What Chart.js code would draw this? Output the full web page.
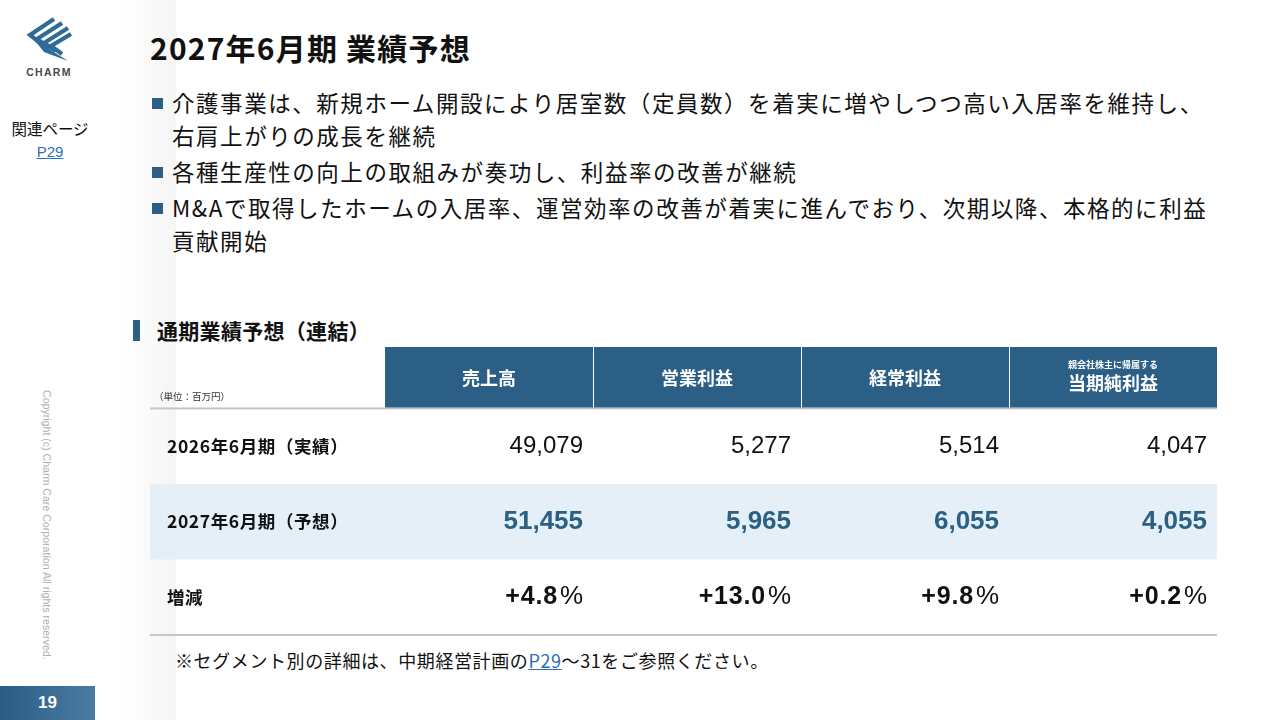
<!DOCTYPE html>
<html lang="ja">
<head>
<meta charset="utf-8">
<title>2027年6月期 業績予想</title>
<script src="https://cdn.jsdelivr.net/npm/chart.js@4/dist/chart.umd.min.js"></script>
<style>
  html, body { margin: 0; padding: 0; }
  body {
    width: 1280px; height: 720px; position: relative; overflow: hidden;
    background: #fff; color: #111;
    font-family: "Noto Sans CJK JP", "Noto Sans", sans-serif;
  }
  .shade {
    position: absolute; left: 120px; top: 0; width: 56px; height: 720px;
    background: linear-gradient(to right, rgba(246,246,246,0), #f5f5f5);
  }
  .logo { position: absolute; left: 22px; top: 16px; width: 54px; }
  .logo svg { display: block; margin-left: 2px; }
  .logo .name {
    font-family: "Liberation Sans", sans-serif; font-size: 10.5px; font-weight: 700; color: #4a4a4a;
    letter-spacing: 1.3px; text-align: center; margin-top: 2px;
  }
  .related {
    position: absolute; left: 0; top: 117px; width: 100px; text-align: center;
    font-size: 15.5px; line-height: 22px;
  }
  .related a { color: #2a6fb5; font-family: "Liberation Sans", sans-serif; font-size: 15px; }
  h1 {
    position: absolute; left: 150px; top: 27px; margin: 0;
    font-size: 30px; font-weight: 700; line-height: 40px; letter-spacing: 1.2px;
  }
  ul.points {
    position: absolute; left: 150px; top: 86px; margin: 0; padding: 0; list-style: none;
    font-size: 22.5px; line-height: 33px; letter-spacing: 1.55px;
  }
  ul.points li { position: relative; padding-left: 22px; margin-bottom: 3px; }
  ul.points li::before {
    content: ""; position: absolute; left: 2px; top: 12px; width: 11px; height: 11px;
    background: #2b5f86;
  }
  .section {
    position: absolute; left: 133px; top: 316px; font-size: 21px; font-weight: 700;
    line-height: 28px; padding-left: 24px; letter-spacing: 0.3px;
  }
  .section::before {
    content: ""; position: absolute; left: 0; top: 4px; width: 7px; height: 21px; background: #2b5f86;
  }
  #tableBox { position: absolute; left: 150px; top: 347px; width: 1067px; height: 292px; }
  .note {
    position: absolute; left: 175px; top: 647px; font-size: 18px; line-height: 26px; letter-spacing: 0.6px;
  }
  .note a { color: #2a6fb5; }
  .copy {
    position: absolute; left: 47px; top: 390px; transform-origin: 0 0; transform: rotate(90deg) translateY(-50%);
    font-family: "Liberation Sans", sans-serif; font-size: 10.6px; color: #b0b0b0; white-space: nowrap;
    line-height: 14px;
  }
  .page {
    position: absolute; left: 0; top: 686px; width: 95px; height: 34px;
    background: linear-gradient(to right, #2a5b82, #4b7ca3);
    color: #fff; font-family: "Liberation Sans", sans-serif; font-weight: 700; font-size: 17px;
    line-height: 34px; text-align: center;
  }
</style>
</head>
<body>
<div class="shade"></div>

<div class="logo">
  <svg width="50" height="48" viewBox="0 0 50 48">
    <g fill="none" stroke="#2f6b96" stroke-width="4.2" stroke-linejoin="miter">
      <polyline points="30,3 6,19 20,30"/>
      <polyline points="38,7 13,23 26,32"/>
      <polyline points="44,12 20,27 32,35"/>
      <polyline points="47,18 27,30 38,38"/>
    </g>
    <polygon points="8,21 22,31 44,45 20,36" fill="#2f6b96"/>
  </svg>
  <div class="name">CHARM</div>
</div>

<div class="related">関連ページ<br><a href="#">P29</a></div>

<h1>2027年6月期 業績予想</h1>

<ul class="points">
  <li>介護事業は、新規ホーム開設により居室数（定員数）を着実に増やしつつ高い入居率を維持し、<br>右肩上がりの成長を継続</li>
  <li>各種生産性の向上の取組みが奏功し、利益率の改善が継続</li>
  <li>M&amp;Aで取得したホームの入居率、運営効率の改善が着実に進んでおり、次期以降、本格的に利益<br>貢献開始</li>
</ul>

<div class="section">通期業績予想（連結）</div>

<div id="tableBox"><canvas id="perf"></canvas></div>

<div class="note">※セグメント別の詳細は、中期経営計画の<a href="#">P29</a>～31をご参照ください。</div>

<div class="copy">Copyright (c) Charm Care Corporation All rights reserved.</div>
<div class="page">19</div>

<script>
// 通期業績予想（連結） 単位：百万円
const metrics = ['売上高', '営業利益', '経常利益', '当期純利益'];
const rowLabels = ['2026年6月期（実績）', '2027年6月期（予想）', '増減'];
const actual2026 = [49079, 5277, 5514, 4047];
const forecast2027 = [51455, 5965, 6055, 4055];
const changePct = [4.8, 13.0, 9.8, 0.2];

const rowValues = [actual2026, forecast2027, changePct];
const navy = '#2b5f86';
const numFont = '"Liberation Sans", Arial, sans-serif';
const jpFont = '"Noto Sans CJK JP", sans-serif';

function fmt(r, v) {
    if (r === 2) return '+' + v.toFixed(1);
    return v.toLocaleString('en-US');
}

const tablePlugin = {
    id: 'tableCells',
    beforeDatasetsDraw(chart) {
        const ctx = chart.ctx;
        const x = chart.scales.x, y = chart.scales.y;
        const left = x.getPixelForValue(x.min), right = x.getPixelForValue(x.max);
        ctx.save();
        // header cells
        ctx.fillStyle = navy;
        metrics.forEach((m, j) => {
            const x0 = x.getPixelForValue(j + 0.5), x1 = x.getPixelForValue(j + 1.5);
            const y0 = y.getPixelForValue(y.min), y1 = y.getPixelForValue(0.5);
            ctx.fillRect(x0 + (j ? 1 : 0), y0, x1 - x0 - (j ? 1 : 0), y1 - y0);
        });
        // highlighted forecast row
        ctx.fillStyle = '#e4eff7';
        const h0 = y.getPixelForValue(1.5), h1 = y.getPixelForValue(2.5);
        ctx.fillRect(left, h0, right - left, h1 - h0);
        // rules
        ctx.fillStyle = '#c6c6c6';
        [0.5, 3.5].forEach(v => {
            ctx.fillRect(left, y.getPixelForValue(v) - 1, right - left, 2);
        });
        ctx.restore();
    },
    afterDatasetsDraw(chart) {
        const ctx = chart.ctx;
        const x = chart.scales.x, y = chart.scales.y;
        const left = x.getPixelForValue(x.min);
        const colW = x.getPixelForValue(1) - x.getPixelForValue(0);
        const headY = y.getPixelForValue((y.min + 0.5) / 2);
        ctx.save();
        ctx.textBaseline = 'middle';
        // header texts
        ctx.fillStyle = '#fff';
        ctx.textAlign = 'center';
        metrics.forEach((m, j) => {
            const cx = x.getPixelForValue(j + 1);
            if (j === 3) {
                ctx.font = '700 9px ' + jpFont;
                ctx.fillText('親会社株主に帰属する', cx, headY - 13);
                ctx.font = '700 18px ' + jpFont;
                ctx.fillText(m, cx, headY + 5);
            } else {
                ctx.font = '700 18px ' + jpFont;
                ctx.fillText(m, cx, headY);
            }
        });
        // unit label
        ctx.fillStyle = '#333';
        ctx.textAlign = 'left';
        ctx.font = '9.5px ' + jpFont;
        ctx.fillText('（単位：百万円）', left + 4, y.getPixelForValue(0.5) - 12);
        // rows
        chart.data.datasets.forEach((ds, r) => {
            const meta = chart.getDatasetMeta(r);
            ctx.fillStyle = '#111';
            ctx.textAlign = 'left';
            ctx.font = '700 17.5px ' + jpFont;
            ctx.letterSpacing = '0.6px';
            ctx.fillText(ds.label, left + 17, meta.data[0].y);
            ctx.letterSpacing = '0px';
            meta.data.forEach((pt, j) => {
                const rx = pt.x + colW / 2 - 10;
                const txt = fmt(r, rowValues[r][j]);
                ctx.textAlign = 'right';
                if (r === 0) {
                    ctx.fillStyle = '#111';
                    ctx.font = '24px ' + numFont;
                    ctx.fillText(txt, rx, pt.y);
                } else if (r === 1) {
                    ctx.fillStyle = navy;
                    ctx.font = '700 26px ' + numFont;
                    ctx.fillText(txt, rx, pt.y);
                } else {
                    ctx.fillStyle = '#111';
                    ctx.font = '26px ' + numFont;
                    const pw = ctx.measureText('%').width;
                    ctx.fillText('%', rx, pt.y);
                    ctx.font = '700 25px ' + numFont;
                    ctx.letterSpacing = '0.8px';
                    ctx.fillText(txt, rx - pw - 2, pt.y);
                    ctx.letterSpacing = '0px';
                }
            });
        });
        ctx.restore();
    }
};

new Chart(document.getElementById('perf'), {
    type: 'scatter',
    data: {
        datasets: rowLabels.map((label, r) => ({
            label: label,
            data: metrics.map((m, j) => ({ x: j + 1, y: r + 1 })),
            pointRadius: 0,
            pointHoverRadius: 0
        }))
    },
    options: {
        responsive: true,
        maintainAspectRatio: false,
        animation: false,
        events: [],
        layout: { padding: { top: 0, bottom: 4, left: 0, right: 0 } },
        plugins: { legend: { display: false }, tooltip: { enabled: false } },
        scales: {
            x: { type: 'linear', min: -0.63, max: 4.5, display: false },
            y: { type: 'linear', reverse: true, min: -0.313, max: 3.5, display: false }
        }
    },
    plugins: [tablePlugin]
});
</script>
</body>
</html>
